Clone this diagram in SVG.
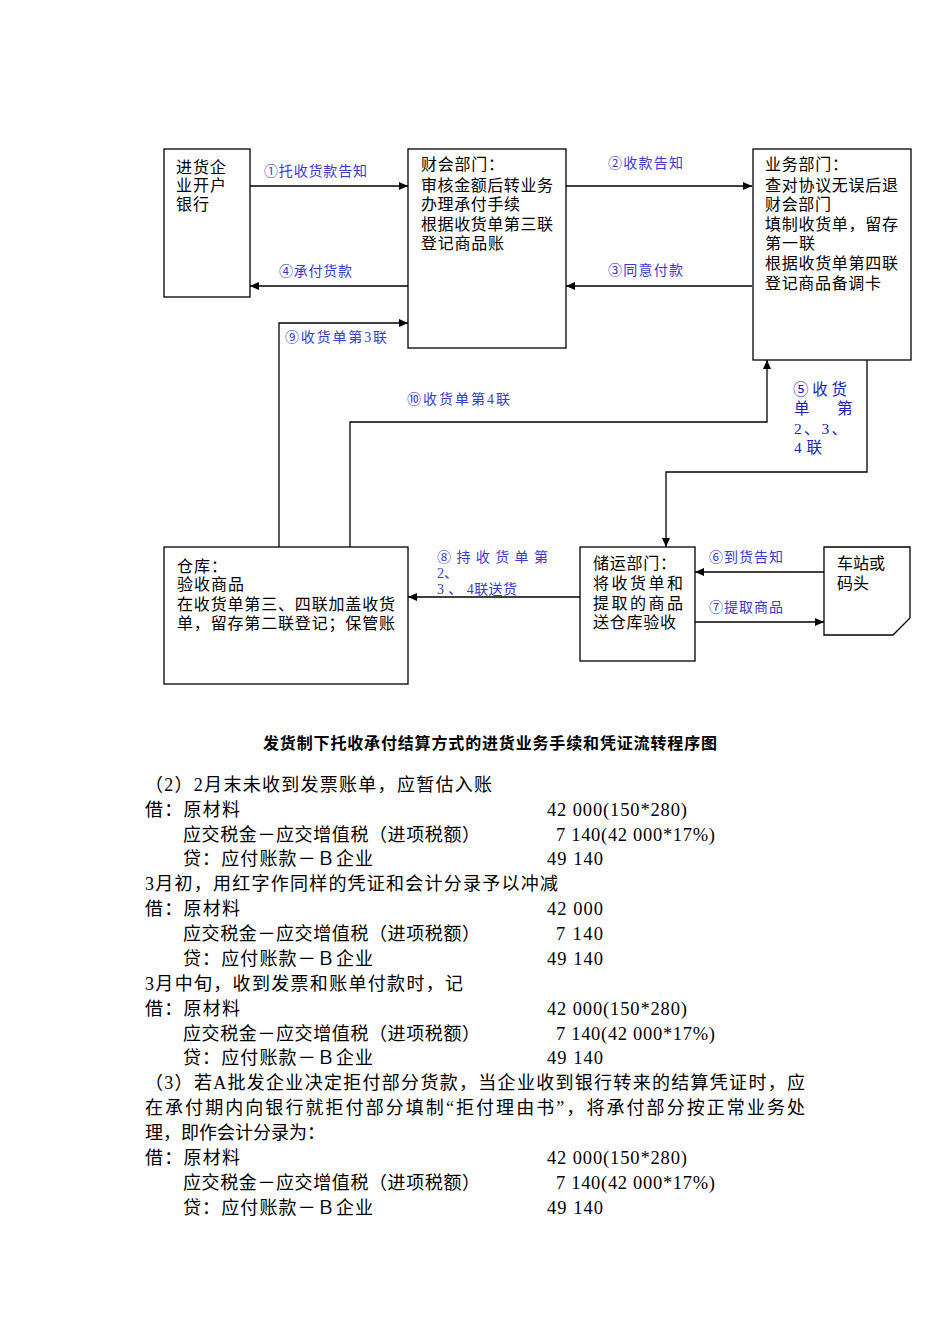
<svg xmlns="http://www.w3.org/2000/svg" width="950" height="1344" viewBox="0 0 950 1344">
<style>
.box{fill:#fff;stroke:#000;stroke-width:1.3}
.conn{fill:none;stroke:#000;stroke-width:1.3}
.bt{font-family:"Liberation Serif","Noto Sans CJK SC",serif;font-size:16px;fill:#000}
.lb{font-family:"Liberation Serif","Noto Sans CJK SC",serif;font-size:14px;fill:#3a3ad0}
.lb5{font-family:"Liberation Serif","Noto Sans CJK SC",serif;font-size:15.5px;fill:#2020b8}
.cn{font-family:"Noto Sans CJK SC",sans-serif}
.title{font-family:"Liberation Sans","Noto Sans CJK SC",sans-serif;font-size:16px;font-weight:bold;fill:#000}
.tx{font-family:"Liberation Serif","Noto Sans CJK SC",serif;font-size:18px;fill:#000}
.num{font-family:"Liberation Serif","Noto Sans CJK SC",serif;font-size:18.5px;fill:#000}
</style>
<defs>
<marker id="ah" markerUnits="userSpaceOnUse" markerWidth="9" markerHeight="8" refX="9" refY="4" orient="auto">
<path d="M0,0 L9,4 L0,8 z" fill="#000"/>
</marker>
</defs>
<rect width="950" height="1344" fill="#fff"/>

<g id="connectors">
<path class="conn" d="M250,186 H408" marker-end="url(#ah)"/>
<path class="conn" d="M408,286 H250" marker-end="url(#ah)"/>
<path class="conn" d="M279,547 V323 H408" marker-end="url(#ah)"/>
<path class="conn" d="M566,186 H752" marker-end="url(#ah)"/>
<path class="conn" d="M752,286 H566" marker-end="url(#ah)"/>
<path class="conn" d="M350,547 V422 H767 V360" marker-end="url(#ah)"/>
<path class="conn" d="M867,360 V472 H666 V547" marker-end="url(#ah)"/>
<path class="conn" d="M580,597 H408" marker-end="url(#ah)"/>
<path class="conn" d="M824,572 H695" marker-end="url(#ah)"/>
<path class="conn" d="M695,622 H824" marker-end="url(#ah)"/>
<text class="lb" x="264" y="176" textLength="103"><tspan class="cn">①</tspan>托收货款告知</text>
<text class="lb" x="279" y="275.5" textLength="73"><tspan class="cn">④</tspan>承付货款</text>
<text class="lb" x="285" y="341.5" textLength="102"><tspan class="cn">⑨</tspan>收货单第3联</text>
<text class="lb" x="608" y="167.5" textLength="75"><tspan class="cn">②</tspan>收款告知</text>
<text class="lb" x="608" y="274.5" textLength="75"><tspan class="cn">③</tspan>同意付款</text>
<text class="lb" x="407" y="403.5" textLength="103"><tspan class="cn">⑩</tspan>收货单第4联</text>
<text class="lb5" x="793" y="394.5" textLength="54"><tspan class="cn">⑤</tspan>收货</text>
<text class="lb5" x="794" y="414">单</text>
<text class="lb5" x="837" y="414">第</text>
<text class="lb5" x="794" y="433.5" textLength="53">2、3、</text>
<text class="lb5" x="794" y="453" textLength="28">4联</text>
<text class="lb" x="437" y="561.5" textLength="111"><tspan class="cn">⑧</tspan> 持 收 货 单 第</text>
<text class="lb" x="437" y="577.5">2、</text>
<text class="lb" x="437" y="593.5" textLength="80">3 、 4联送货</text>
<text class="lb" x="709" y="561.5" textLength="74"><tspan class="cn">⑥</tspan>到货告知</text>
<text class="lb" x="709" y="611.5" textLength="74"><tspan class="cn">⑦</tspan>提取商品</text>
</g>

<g id="node-bank">
<rect class="box" x="164" y="149" width="86" height="148"/>
<text class="bt" x="176" y="172.5" textLength="50">进货企</text>
<text class="bt" x="176" y="190.5" textLength="50">业开户</text>
<text class="bt" x="176" y="210" textLength="33">银行</text>
</g>

<g id="node-finance">
<rect class="box" x="408" y="149" width="158" height="199"/>
<text class="bt" x="421" y="170" textLength="83">财会部门：</text>
<text class="bt" x="421" y="190.5" textLength="132">审核金额后转业务</text>
<text class="bt" x="421" y="210" textLength="99">办理承付手续</text>
<text class="bt" x="421" y="230" textLength="132">根据收货单第三联</text>
<text class="bt" x="421" y="249" textLength="83">登记商品账</text>
</g>

<g id="node-business">
<rect class="box" x="753" y="149" width="158" height="211"/>
<text class="bt" x="765" y="170" textLength="83">业务部门：</text>
<text class="bt" x="765" y="190.5" textLength="133">查对协议无误后退</text>
<text class="bt" x="765" y="210" textLength="66">财会部门</text>
<text class="bt" x="765" y="230" textLength="133">填制收货单，留存</text>
<text class="bt" x="765" y="249" textLength="50">第一联</text>
<text class="bt" x="765" y="269" textLength="133">根据收货单第四联</text>
<text class="bt" x="765" y="288.5" textLength="116">登记商品备调卡</text>
</g>

<g id="node-warehouse">
<rect class="box" x="164" y="547" width="244" height="137"/>
<text class="bt" x="177" y="571.5" textLength="50">仓库：</text>
<text class="bt" x="177" y="590" textLength="67">验收商品</text>
<text class="bt" x="177" y="610" textLength="218">在收货单第三、四联加盖收货</text>
<text class="bt" x="177" y="629" textLength="218">单，留存第二联登记；保管账</text>
</g>

<g id="node-storage">
<rect class="box" x="580" y="547" width="115" height="114"/>
<text class="bt" x="593" y="569" textLength="83">储运部门：</text>
<text class="bt" x="593" y="589" textLength="90">将收货单和</text>
<text class="bt" x="593" y="609" textLength="90">提取的商品</text>
<text class="bt" x="593" y="628" textLength="83">送仓库验收</text>
</g>

<g id="node-station">
<path class="box" d="M824,547 H910 V618 L893,635 H824 Z"/>
<text class="bt" x="837" y="569" textLength="48">车站或</text>
<text class="bt" x="837" y="589" textLength="32">码头</text>
</g>

<g id="caption">
<text class="title" x="263" y="749" textLength="454">发货制下托收承付结算方式的进货业务手续和凭证流转程序图</text>
</g>

<g id="body">
<text class="tx" x="145" y="790.5" textLength="347">（2）2月末未收到发票账单，应暂估入账</text>
<text class="tx" x="145" y="815.5" textLength="95">借：原材料</text>
<text class="num" x="547" y="815.5" textLength="140">42 000(150*280)</text>
<text class="tx" x="183" y="840.5" textLength="297">应交税金－应交增值税（进项税额）</text>
<text class="num" x="556" y="840.5" textLength="159">7 140(42 000*17%)</text>
<text class="tx" x="183" y="864.5" textLength="190">贷：应付账款－Ｂ企业</text>
<text class="num" x="547" y="864.5" textLength="56">49 140</text>

<text class="tx" x="145" y="889.5" textLength="413">3月初，用红字作同样的凭证和会计分录予以冲减</text>
<text class="tx" x="145" y="914.5" textLength="95">借：原材料</text>
<text class="num" x="547" y="914.5" textLength="56">42 000</text>
<text class="tx" x="183" y="939.5" textLength="297">应交税金－应交增值税（进项税额）</text>
<text class="num" x="556" y="939.5" textLength="47">7 140</text>
<text class="tx" x="183" y="964.5" textLength="190">贷：应付账款－Ｂ企业</text>
<text class="num" x="547" y="964.5" textLength="56">49 140</text>

<text class="tx" x="145" y="989.5" textLength="318">3月中旬，收到发票和账单付款时，记</text>
<text class="tx" x="145" y="1014.5" textLength="95">借：原材料</text>
<text class="num" x="547" y="1014.5" textLength="140">42 000(150*280)</text>
<text class="tx" x="183" y="1039.5" textLength="297">应交税金－应交增值税（进项税额）</text>
<text class="num" x="556" y="1039.5" textLength="159">7 140(42 000*17%)</text>
<text class="tx" x="183" y="1063.5" textLength="190">贷：应付账款－Ｂ企业</text>
<text class="num" x="547" y="1063.5" textLength="56">49 140</text>

<text class="tx" x="145" y="1088.5" textLength="660">（3）若A批发企业决定拒付部分货款，当企业收到银行转来的结算凭证时，应</text>
<text class="tx" x="145" y="1113.5" textLength="660">在承付期内向银行就拒付部分填制“拒付理由书”，将承付部分按正常业务处</text>
<text class="tx" x="145" y="1138.5" textLength="180">理，即作会计分录为：</text>
<text class="tx" x="145" y="1163.5" textLength="95">借：原材料</text>
<text class="num" x="547" y="1163.5" textLength="140">42 000(150*280)</text>
<text class="tx" x="183" y="1188.5" textLength="297">应交税金－应交增值税（进项税额）</text>
<text class="num" x="556" y="1188.5" textLength="159">7 140(42 000*17%)</text>
<text class="tx" x="183" y="1213.5" textLength="190">贷：应付账款－Ｂ企业</text>
<text class="num" x="547" y="1213.5" textLength="56">49 140</text>
</g>
</svg>
